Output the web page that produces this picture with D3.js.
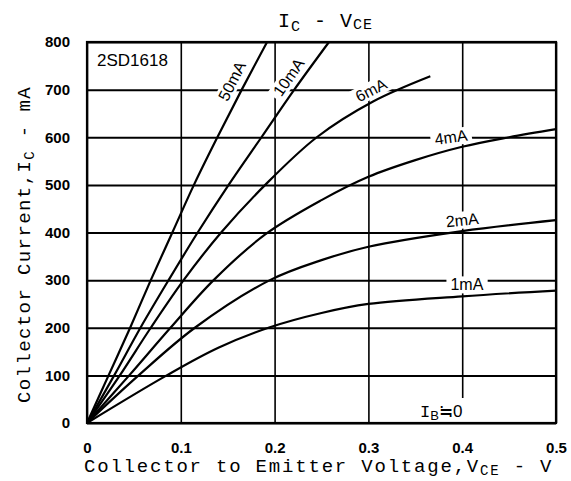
<!DOCTYPE html>
<html>
<head>
<meta charset="utf-8">
<script src="https://cdn.jsdelivr.net/npm/d3@7"></script>
<style>
  html, body { margin: 0; padding: 0; background: #fff; }
  svg { display: block; }
</style>
</head>
<body>
<svg width="571" height="481"></svg>
<script>
// curvas Ic - Vce del 2SD1618 (valores leidos de la hoja de datos)
// cada punto es [Vce en V, Ic en mA]
const ib50 = [[0,0],[0.023,100],[0.046,200],[0.068,300],[0.091,400],[0.114,500],[0.139,600],[0.165,700],[0.192,800]];
const ib10 = [[0,0],[0.029,100],[0.057,200],[0.087,300],[0.118,400],[0.151,500],[0.186,600],[0.221,700],[0.258,800]];
const ib6  = [[0,0],[0.035,100],[0.068,200],[0.103,300],[0.143,400],[0.19,500],[0.245,600],[0.305,675],[0.366,728]];
const ib4  = [[0,0],[0.045,100],[0.089,200],[0.135,300],[0.19,396],[0.25,468],[0.3,517],[0.35,552],[0.4,580],[0.45,600],[0.5,617]];
const ib2  = [[0,0],[0.055,100],[0.115,200],[0.195,300],[0.25,342],[0.3,370],[0.4,403],[0.5,426]];
const ib1  = [[0,0],[0.085,100],[0.14,158],[0.195,201],[0.25,231],[0.3,250],[0.4,266],[0.5,278]];

const nombres = ["50mA", "10mA", "6mA", "4mA", "2mA", "1mA"];
const curvas = [ib50, ib10, ib6, ib4, ib2, ib1];

const ticksX = [0, 0.1, 0.2, 0.3, 0.4, 0.5];
const etiquetasX = ["0", "0.1", "0.2", "0.3", "0.4", "0.5"];
const ticksY = [0, 100, 200, 300, 400, 500, 600, 700, 800];

// donde va cada rotulo de curva (en unidades del grafico) y su giro
const rotulos = [
  { texto: "50mA", v: 0.1546, i: 718, giro: -63 },
  { texto: "10mA", v: 0.215, i: 726, giro: -55 },
  { texto: "6mA", v: 0.303, i: 699, giro: -27 },
  { texto: "4mA", v: 0.388, i: 600, giro: -8 },
  { texto: "2mA", v: 0.400, i: 426, giro: -6 },
  { texto: "1mA", v: 0.405, i: 290, giro: 0 },
];

const svg = d3.select("svg");
const izq = 87, der = 556, arriba = 42, abajo = 423;

const x = d3.scaleLinear().domain([0, 0.5]).range([izq, der]);
const y = d3.scaleLinear().domain([0, 800]).range([abajo, arriba]);

const mono = "'Liberation Mono', 'DejaVu Sans Mono', monospace";
const sans = "'Liberation Sans', Arial, sans-serif";

// rejilla horizontal + numeros del eje Y
const ejeY = svg.append("g")
  .attr("transform", `translate(${izq},0)`)
  .call(d3.axisLeft(y).tickValues(ticksY).tickSize(-(der - izq)).tickPadding(17));
ejeY.select(".domain").remove();
ejeY.selectAll("line").attr("stroke", "#000").attr("stroke-width", 2);
ejeY.selectAll("text")
  .attr("fill", "#000")
  .style("font-family", sans)
  .style("font-size", "15px")
  .style("font-weight", "bold");

// rejilla vertical + numeros del eje X
const ejeX = svg.append("g")
  .attr("transform", `translate(0,${abajo})`)
  .call(d3.axisBottom(x).tickValues(ticksX).tickFormat((d, i) => etiquetasX[i])
    .tickSize(-(abajo - arriba)).tickPadding(19));
ejeX.select(".domain").remove();
ejeX.selectAll("line").attr("stroke", "#000").attr("stroke-width", 1.6);
ejeX.selectAll("text")
  .attr("fill", "#000")
  .style("font-family", sans)
  .style("font-size", "15px")
  .style("font-weight", "bold");

// capa de fondos blancos (cortan la rejilla detras de los rotulos)
const fondos = svg.append("g");

// curvas
const linea = d3.line()
  .x(d => x(d[0]))
  .y(d => y(d[1]))
  .curve(d3.curveCatmullRom.alpha(0.5));

svg.append("g")
  .selectAll("path")
  .data(curvas)
  .enter()
  .append("path")
  .attr("d", d => linea(d))
  .attr("fill", "none")
  .attr("stroke", "#000")
  .attr("stroke-width", 2.2);

// marco
svg.append("rect")
  .attr("x", izq)
  .attr("y", arriba)
  .attr("width", der - izq)
  .attr("height", abajo - arriba)
  .attr("fill", "none")
  .attr("stroke", "#000")
  .attr("stroke-width", 2.2);

// rotulos de las curvas
const capaRotulos = svg.append("g");
rotulos.forEach(r => {
  const tr = `translate(${x(r.v)},${y(r.i)}) rotate(${r.giro})`;
  const t = capaRotulos.append("text")
    .attr("transform", tr)
    .attr("text-anchor", "middle")
    .attr("dominant-baseline", "central")
    .style("font-family", sans)
    .style("font-size", "16px")
    .text(r.texto);
  const caja = t.node().getBBox();
  fondos.append("rect")
    .attr("transform", tr)
    .attr("x", caja.x - 4)
    .attr("y", caja.y)
    .attr("width", caja.width + 8)
    .attr("height", caja.height)
    .attr("fill", "#fff");
});

// nombre del transistor
svg.append("text")
  .attr("x", 97)
  .attr("y", 66)
  .style("font-family", sans)
  .style("font-size", "17px")
  .text("2SD1618");

// I_B = 0
const ib0 = svg.append("text")
  .attr("x", 420)
  .attr("y", 417)
  .style("font-family", sans)
  .style("font-size", "17px");
ib0.append("tspan").style("font-family", mono).text("I");
ib0.append("tspan").attr("dy", 3).style("font-size", "13px").text("B");
ib0.append("tspan").attr("dy", -3).text("≒0");
const cajaIb = ib0.node().getBBox();
fondos.append("rect")
  .attr("x", cajaIb.x - 4)
  .attr("y", cajaIb.y - 4)
  .attr("width", cajaIb.width + 8)
  .attr("height", abajo - cajaIb.y + 3)
  .attr("fill", "#fff");

// titulo
const titulo = svg.append("text")
  .attr("x", 278)
  .attr("y", 27)
  .style("font-family", mono)
  .style("font-size", "20px")
  .style("letter-spacing", "1px");
titulo.append("tspan").text("I");
titulo.append("tspan").attr("dy", 4).style("font-size", "15px").text("C");
titulo.append("tspan").attr("dy", -4).text(" - V");
titulo.append("tspan").attr("dy", 2).style("font-size", "15px").text("CE");

// titulo del eje X
const tituloX = svg.append("text")
  .attr("x", 84)
  .attr("y", 472)
  .style("font-family", mono)
  .style("font-size", "19px")
  .style("letter-spacing", "1.8px");
tituloX.append("tspan").text("Collector to Emitter Voltage,V");
tituloX.append("tspan").attr("dy", 3).style("font-size", "14px").text("CE");
tituloX.append("tspan").attr("dy", -3).text(" - V");

// titulo del eje Y
const tituloY = svg.append("text")
  .attr("transform", "translate(30,403) rotate(-90)")
  .style("font-family", mono)
  .style("font-size", "19px")
  .style("letter-spacing", "1.4px");
tituloY.append("tspan").text("Collector Current,I");
tituloY.append("tspan").attr("dy", 4).style("font-size", "14px").text("C");
tituloY.append("tspan").attr("dy", -4).text(" - mA");
</script>
</body>
</html>
